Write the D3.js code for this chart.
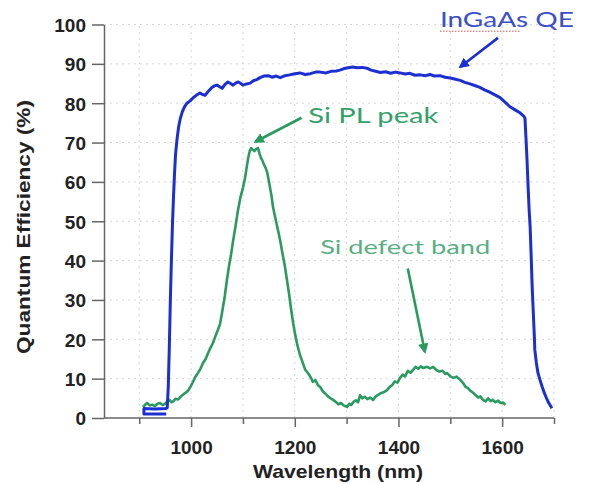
<!DOCTYPE html>
<html>
<head>
<meta charset="utf-8">
<script src="https://cdn.jsdelivr.net/npm/d3@7"></script>
<style>
  body { margin: 0; background: #fff; }
  svg { display: block; }
</style>
</head>
<body>
<div id="container"></div>
<script>
// InGaAs quantum efficiency (blue)
const qeWavelength = [952, 909, 909, 930, 951, 954, 956, 958, 960, 962, 964, 966, 968, 970, 973, 976, 979, 983, 987, 992, 998,
  1004, 1010, 1017, 1022, 1027, 1033, 1040, 1045, 1050, 1055, 1060, 1065, 1071, 1076, 1081, 1086, 1091, 1096, 1100,
  1107, 1114, 1120, 1127, 1133, 1140, 1149, 1156, 1164, 1172, 1181, 1190, 1200, 1210, 1220, 1230, 1240, 1249, 1260,
  1270, 1280, 1287, 1295, 1303, 1312, 1320, 1330, 1339, 1347, 1356, 1365, 1375, 1385, 1394, 1403, 1413, 1422, 1432,
  1442, 1452, 1461, 1470, 1480, 1490, 1500, 1510, 1519, 1528, 1538, 1547, 1557, 1566, 1576, 1586, 1596, 1606, 1615,
  1625, 1635, 1641, 1644, 1646, 1648, 1650, 1652, 1654, 1656, 1658, 1660, 1662, 1663, 1666, 1669, 1673, 1677, 1681,
  1685, 1690, 1696];
const qeValue = [1.0, 1.0, 2.4, 2.3, 2.4, 2.6, 8, 18, 30, 40, 49, 56, 62, 67, 71, 74, 76, 77.8, 79, 80, 80.6,
  81.4, 82, 82.6, 82.2, 82, 83, 84, 84.4, 84.6, 84.2, 83.8, 84.7, 85.4, 85, 84.6, 85.1, 85.4, 85, 84.6,
  84.9, 85.1, 85.7, 86, 86.5, 86.9, 87, 86.6, 86.9, 86.5, 87, 87.2, 87.5, 87.7, 87.3, 87.5, 87.9, 87.9, 87.7,
  88.1, 88.2, 88.4, 88.8, 89, 89.2, 89, 89.1, 88.9, 88.4, 88.1, 87.8, 88, 87.6, 87.9, 87.7, 87.4, 87.6, 87.1,
  87.2, 87, 87.3, 86.9, 87, 86.6, 86.4, 86.1, 85.8, 85.3, 84.9, 84.5, 84, 83.4, 82.8, 82.1, 81.4, 80.2, 79.1,
  78.3, 77.5, 76.8, 76.2, 71, 65.5, 59, 53, 48.5, 41, 33, 27, 21, 17.3, 14, 11.5, 9.7, 8, 6.5,
  5.2, 3.8, 2.5];

// Si photoluminescence (green)
const plWavelength = [907, 911, 915, 920, 925, 930, 935, 940, 945, 950, 954, 958, 962, 966, 970, 975, 979, 984, 990, 994, 998,
  1003, 1008, 1013, 1018, 1023, 1028, 1033, 1038, 1042, 1047, 1052, 1056, 1060, 1065, 1069, 1073, 1077, 1081, 1086,
  1090, 1095, 1100, 1104, 1107, 1110, 1113, 1116, 1119, 1122, 1125, 1129, 1132, 1135, 1137, 1141, 1144, 1147, 1151,
  1155, 1158, 1163, 1168, 1172, 1176, 1181, 1185, 1189, 1193, 1197, 1201, 1205, 1210, 1215, 1220, 1225, 1230, 1235,
  1240, 1245, 1249, 1254, 1259, 1264, 1269, 1274, 1279, 1284, 1289, 1294, 1298, 1301, 1305, 1309, 1313, 1318, 1322,
  1326, 1330, 1335, 1340, 1345, 1351, 1356, 1361, 1366, 1372, 1378, 1383, 1388, 1393, 1398, 1403, 1408, 1413, 1418,
  1423, 1428, 1433, 1438, 1443, 1448, 1455, 1461, 1467, 1473, 1479, 1485, 1490, 1494, 1500, 1506, 1512, 1519, 1524,
  1529, 1534, 1539, 1544, 1549, 1554, 1558, 1563, 1568, 1573, 1578, 1582, 1587, 1592, 1597, 1602, 1606];
const plValue = [2.8, 3.3, 3.8, 3.2, 3.4, 3.0, 3.6, 3.8, 3.3, 3.6, 4.2, 4.6, 4.0, 4.3, 4.9, 4.7, 5.3, 5.9, 6.5, 6.9, 7.8,
  9.0, 10.4, 11.4, 12.5, 14, 15, 16.6, 18, 19, 20.8, 22.5, 24, 27, 31, 35, 38.5, 41.5, 45, 49,
  52.5, 56, 58.5, 61, 63.5, 66, 67.8, 68.6, 68.2, 67.8, 68.3, 68.6, 67.2, 66, 65.6, 64.3, 63.5, 62.3, 59.5,
  56.5, 53.6, 50.5, 47.5, 45, 42, 38.5, 35, 31.5, 27.5, 24, 21, 18.5, 16, 14.2, 12.3, 11.5, 10.5, 9.2,
  9.6, 8.3, 7.9, 6.8, 6.2, 5.5, 5.0, 4.6, 4.1, 3.5, 3.8, 3.2, 3.0, 2.8, 3.6, 3.3, 4.1, 4.5, 4.0,
  5.8, 5.0, 5.4, 4.8, 5.2, 4.6, 5.5, 5.9, 6.3, 6.6, 7.1, 7.9, 8.4, 9.3, 9.0, 10.2, 11.0, 10.6, 12.0,
  11.5, 12.2, 13.0, 12.5, 13.1, 12.7, 13.0, 12.6, 13.0, 12.2, 11.8, 12.0, 11.2, 11.4, 10.6, 10.2, 10.5, 9.7, 9.0,
  8.0, 7.6, 6.9, 6.4, 5.8, 5.2, 5.5, 4.6, 4.2, 5.0, 4.3, 4.6, 4.0, 4.4, 3.8, 3.9, 3.3];

const xTicks = [900, 1000, 1100, 1200, 1300, 1400, 1500, 1600, 1700];
const xLabels = [1000, 1200, 1400, 1600];
const yTicks = [0, 10, 20, 30, 40, 50, 60, 70, 80, 90, 100];

const width = 590;
const height = 484;

const x = d3.scaleLinear([832, 1700], [104, 554]);
const y = d3.scaleLinear([0, 100], [418, 24.5]);

const blue = "#1c2fd0";
const green = "#2a9a60";

const svg = d3.select("#container")
  .append("svg")
  .attr("width", width)
  .attr("height", height)
  .attr("viewBox", [0, 0, width, height]);

svg.append("defs").call(defs => {
  [["arrowBlue", blue], ["arrowGreen", green]].forEach(([id, c]) => {
    defs.append("marker")
      .attr("id", id)
      .attr("viewBox", "0 0 10 10")
      .attr("refX", 8).attr("refY", 5)
      .attr("markerWidth", 4).attr("markerHeight", 4)
      .attr("orient", "auto")
      .append("path")
      .attr("d", "M0,0L10,5L0,10z")
      .attr("fill", c);
  });
});

// dotted grid
svg.append("g")
  .attr("stroke", "#d6d6d6")
  .attr("stroke-dasharray", "2,4")
  .call(g => g.selectAll("line.h")
    .data(yTicks.slice(1))
    .join("line")
    .attr("x1", x(832)).attr("x2", x(1700))
    .attr("y1", d => y(d)).attr("y2", d => y(d)))
  .call(g => g.selectAll("line.v")
    .data(xTicks)
    .join("line")
    .attr("x1", d => x(d)).attr("x2", d => x(d))
    .attr("y1", y(0)).attr("y2", y(100)));

// axes
const xAxis = d3.axisBottom(x)
  .tickValues(xTicks)
  .tickSize(6)
  .tickFormat(d => xLabels.includes(d) ? d : "");

svg.append("g")
  .attr("transform", `translate(0,${y(0)})`)
  .call(xAxis)
  .call(g => g.select(".domain").attr("d", `M${x(832)},0H${x(1700)}`))
  .call(g => g.selectAll(".tick line")
    .attr("y2", d => xLabels.includes(d) ? 9 : 6))
  .call(g => g.selectAll("line, path").attr("stroke", "#666").attr("stroke-width", 1.5))
  .call(g => g.selectAll("text")
    .attr("dy", 0).attr("y", 36)
    .attr("fill", "#222")
    .attr("font-size", 19)
    .attr("font-weight", "bold")
    .attr("font-family", "Liberation Sans, Arial, sans-serif"));

svg.append("g")
  .attr("transform", `translate(${x(832)},0)`)
  .call(d3.axisLeft(y).tickValues(yTicks).tickSize(12).tickSizeOuter(0).tickPadding(6))
  .call(g => g.selectAll("line, path").attr("stroke", "#666").attr("stroke-width", 1.5))
  .call(g => g.selectAll("text")
    .attr("dy", "0.36em")
    .attr("fill", "#222")
    .attr("font-size", 19)
    .attr("font-weight", "bold")
    .attr("font-family", "Liberation Sans, Arial, sans-serif"));

// axis titles
svg.append("text")
  .attr("x", 338).attr("y", 478)
  .attr("text-anchor", "middle")
  .attr("font-family", "Liberation Sans, Arial, sans-serif")
  .attr("font-weight", "bold")
  .attr("font-size", 19)
  .attr("fill", "#222")
  .attr("textLength", 170)
  .attr("lengthAdjust", "spacingAndGlyphs")
  .text("Wavelength (nm)");

svg.append("text")
  .attr("transform", "translate(30,227) rotate(-90)")
  .attr("text-anchor", "middle")
  .attr("font-family", "Liberation Sans, Arial, sans-serif")
  .attr("font-weight", "bold")
  .attr("font-size", 19)
  .attr("fill", "#222")
  .attr("textLength", 254)
  .attr("lengthAdjust", "spacingAndGlyphs")
  .text("Quantum Efficiency (%)");

// curves
const line = d3.line().x(d => x(d[0])).y(d => y(d[1]));

svg.append("path")
  .datum(plWavelength.map((w, i) => [w, plValue[i]]))
  .attr("d", line)
  .attr("fill", "none")
  .attr("stroke", green)
  .attr("stroke-width", 2.6)
  .attr("stroke-linejoin", "round");

svg.append("path")
  .datum(qeWavelength.map((w, i) => [w, qeValue[i]]))
  .attr("d", line)
  .attr("fill", "none")
  .attr("stroke", blue)
  .attr("stroke-width", 3)
  .attr("stroke-linejoin", "round");

// annotations
const notes = [
  { label: "InGaAs QE", at: [1480, 99.4], len: 134, size: 22, color: "#3b4fc8",
    from: [1592, 96.6], to: [1519, 89.2], marker: "arrowBlue", stroke: blue },
  { label: "Si PL peak", at: [1226, 75], len: 130, size: 22, color: "#35a068",
    from: [1213, 76.3], to: [1124, 70.2], marker: "arrowGreen", stroke: green },
  { label: "Si defect band", at: [1249, 41.7], len: 170, size: 19, color: "#5aae84",
    from: [1418, 38], to: [1451, 16.8], marker: "arrowGreen", stroke: green }
];

svg.append("g")
  .selectAll("text")
  .data(notes)
  .join("text")
  .attr("x", d => x(d.at[0]))
  .attr("y", d => y(d.at[1]))
  .attr("font-family", "Lato, 'Open Sans', sans-serif")
  .attr("font-size", d => d.size)
  .attr("fill", d => d.color)
  .attr("textLength", d => d.len)
  .attr("lengthAdjust", "spacingAndGlyphs")
  .text(d => d.label);

svg.append("g")
  .selectAll("line")
  .data(notes)
  .join("line")
  .attr("x1", d => x(d.from[0])).attr("y1", d => y(d.from[1]))
  .attr("x2", d => x(d.to[0])).attr("y2", d => y(d.to[1]))
  .attr("stroke", d => d.stroke)
  .attr("stroke-width", 2.6)
  .attr("marker-end", d => `url(#${d.marker})`);

// spell-check squiggle under "InGaAs"
svg.append("line")
  .attr("x1", x(1480)).attr("x2", x(1634))
  .attr("y1", y(98.3)).attr("y2", y(98.3))
  .attr("stroke", "#d05050")
  .attr("stroke-width", 1)
  .attr("stroke-dasharray", "1.5,1.5");
</script>
</body>
</html>
